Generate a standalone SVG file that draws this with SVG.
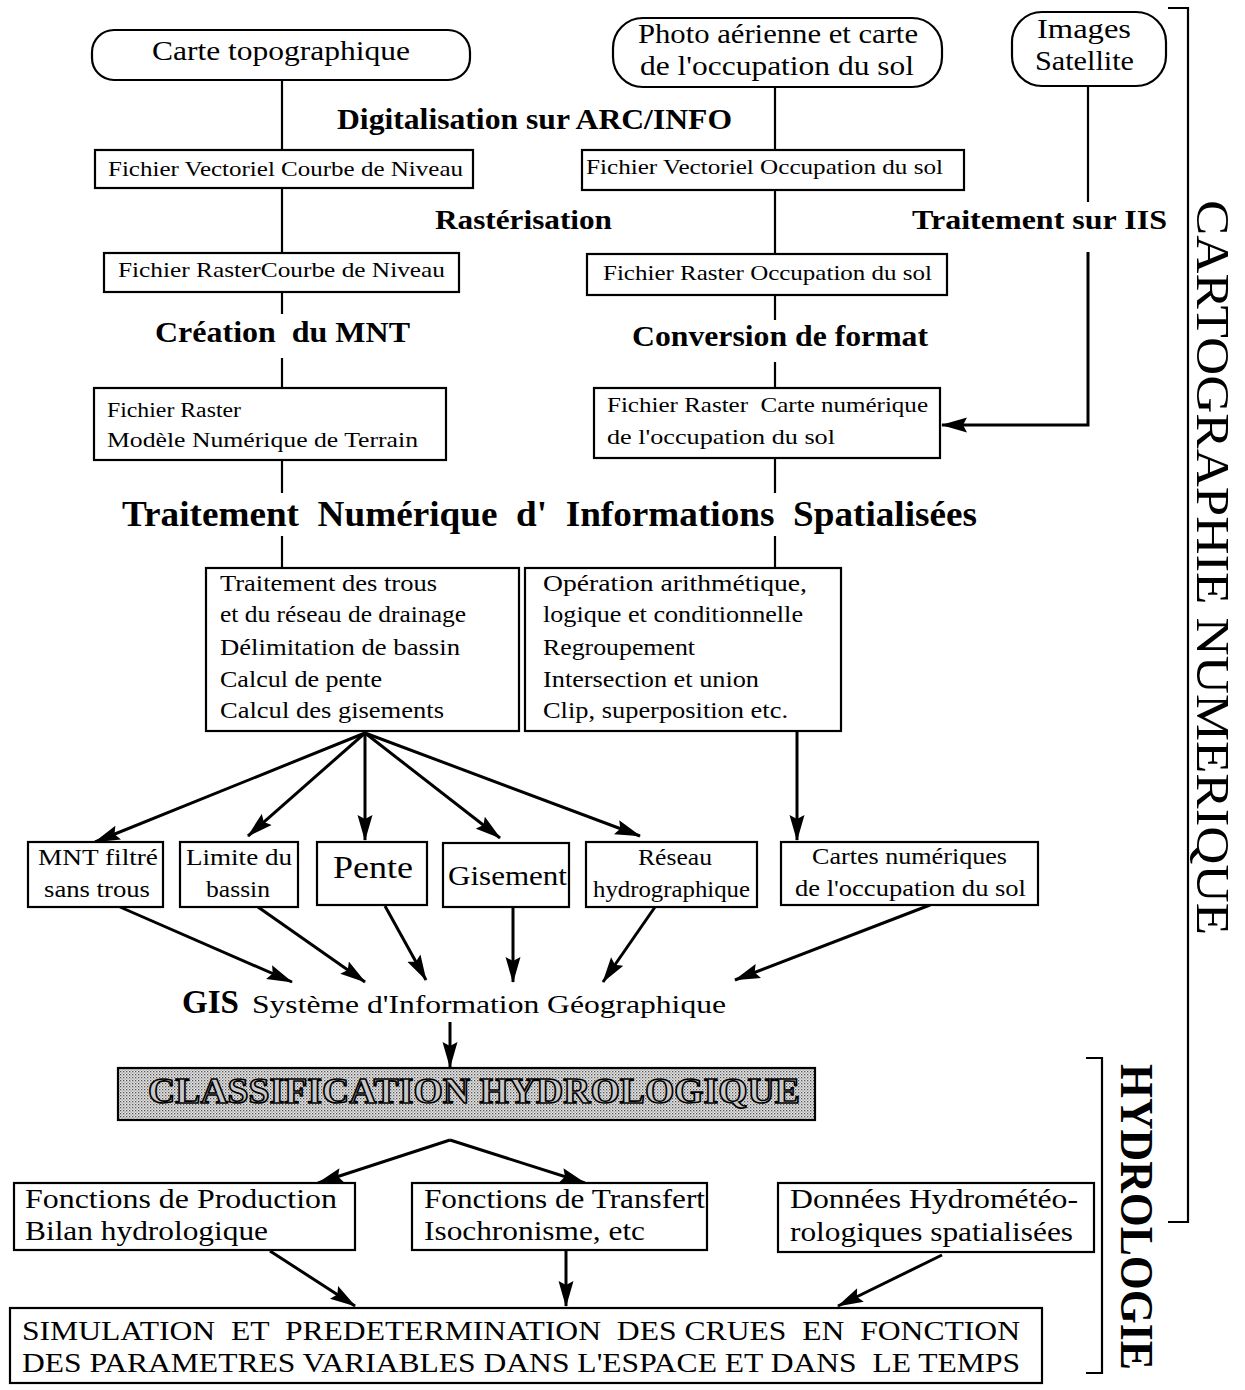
<svg xmlns="http://www.w3.org/2000/svg" width="1245" height="1390" viewBox="0 0 1245 1390" font-family="'Liberation Serif', Tinos, 'Times New Roman', 'Nimbus Roman', Times, serif">
<defs>
<style>
text{font-family:'Liberation Serif', Tinos, 'Times New Roman', 'Nimbus Roman', Times, serif;fill:#000}
.b{font-weight:bold}
.box{fill:#fff;stroke:#000;stroke-width:2.2}
.ln{fill:none;stroke:#000;stroke-width:2.2}
.ar{fill:none;stroke:#000;stroke-width:3;marker-end:url(#ah)}
.s20{font-size:20px}.s22{font-size:22px}.s23{font-size:23px}.s26{font-size:26px}.s27{font-size:27px}.s28{font-size:28px}.s29{font-size:29px}
</style>
<marker id="ah" markerWidth="26" markerHeight="16" refX="25" refY="8" orient="auto" markerUnits="userSpaceOnUse">
<path d="M0,0.5 L26,8 L0,15.5 L4,8 z" fill="#000"/>
</marker>
<pattern id="stip" width="3" height="3" patternUnits="userSpaceOnUse">
<rect width="3" height="3" fill="#e4e4e4"/>
<rect x="0" y="0" width="1.3" height="1.3" fill="#555"/>
<rect x="1.5" y="1.5" width="1.2" height="1.2" fill="#888"/>
</pattern>
</defs>
<rect width="1245" height="1390" fill="#fff"/>

<g id="connectors">
<line class="ln" x1="282" y1="80" x2="282" y2="150"/>
<line class="ln" x1="775" y1="87" x2="775" y2="150"/>
<line class="ln" x1="1088" y1="86" x2="1088" y2="202"/>
<line class="ln" x1="282" y1="188" x2="282" y2="253"/>
<line class="ln" x1="775" y1="190" x2="775" y2="254"/>
<path class="ar" d="M1088,252 V425 H942"/>
<line class="ln" x1="282" y1="292" x2="282" y2="314"/>
<line class="ln" x1="282" y1="358" x2="282" y2="388"/>
<line class="ln" x1="775" y1="295" x2="775" y2="320"/>
<line class="ln" x1="775" y1="362" x2="775" y2="388"/>
<line class="ln" x1="282" y1="460" x2="282" y2="493"/>
<line class="ln" x1="775" y1="458" x2="775" y2="493"/>
<line class="ln" x1="282" y1="536" x2="282" y2="568"/>
<line class="ln" x1="775" y1="536" x2="775" y2="568"/>
<line class="ar" x1="365" y1="733" x2="95" y2="842"/>
<line class="ar" x1="365" y1="733" x2="248" y2="836"/>
<line class="ar" x1="365" y1="733" x2="365" y2="840"/>
<line class="ar" x1="365" y1="733" x2="500" y2="838"/>
<line class="ar" x1="365" y1="733" x2="640" y2="836"/>
<line class="ar" x1="797" y1="731" x2="797" y2="840"/>
<line class="ar" x1="120" y1="907" x2="292" y2="982"/>
<line class="ar" x1="258" y1="907" x2="365" y2="982"/>
<line class="ar" x1="385" y1="906" x2="426" y2="980"/>
<line class="ar" x1="513" y1="907" x2="513" y2="982"/>
<line class="ar" x1="655" y1="907" x2="603" y2="982"/>
<line class="ar" x1="930" y1="905" x2="735" y2="980"/>
<line class="ar" x1="450" y1="1022" x2="450" y2="1067"/>
<line class="ar" x1="450" y1="1140" x2="318" y2="1183"/>
<line class="ar" x1="450" y1="1140" x2="585" y2="1183"/>
<line class="ar" x1="270" y1="1251" x2="355" y2="1306"/>
<line class="ar" x1="566" y1="1251" x2="566" y2="1306"/>
<line class="ar" x1="942" y1="1255" x2="838" y2="1306"/>
</g>

<g id="brackets">
<path class="ln" d="M1168,8 H1188 V1222 H1168"/>
<path class="ln" d="M1086,1058 H1102 V1373 H1086"/>
</g>

<g id="labels">
<text class="b s29" x="337" y="129" textLength="395" lengthAdjust="spacingAndGlyphs">Digitalisation sur ARC/INFO</text>
<text class="b s28" x="435" y="229" textLength="177" lengthAdjust="spacingAndGlyphs">Rastérisation</text>
<text class="b s28" x="912" y="229" textLength="255" lengthAdjust="spacingAndGlyphs">Traitement sur IIS</text>
<text class="b s29" x="155" y="342" textLength="255" lengthAdjust="spacingAndGlyphs" xml:space="preserve">Création  du MNT</text>
<text class="b s29" x="632" y="346" textLength="296" lengthAdjust="spacingAndGlyphs">Conversion de format</text>
<text class="b" style="font-size:36px" x="122" y="526" textLength="855" lengthAdjust="spacingAndGlyphs" xml:space="preserve">Traitement  Numérique  d'  Informations  Spatialisées</text>
<text x="182" y="1013"><tspan class="b" style="font-size:33px">GIS</tspan></text>
<text class="s26" x="252" y="1013" textLength="474" lengthAdjust="spacingAndGlyphs">Système d'Information Géographique</text>
<text transform="translate(1197,200) rotate(90)" style="font-size:46px" textLength="735" lengthAdjust="spacingAndGlyphs">CARTOGRAPHIE NUMERIQUE</text>
<text class="b" transform="translate(1121,1064) rotate(90)" style="font-size:46px" textLength="306" lengthAdjust="spacingAndGlyphs">HYDROLOGIE</text>
</g>

<g id="n-carte-topo">
<rect class="box" x="92" y="30" width="378" height="50" rx="22"/>
<text class="s28" x="152" y="60" textLength="258" lengthAdjust="spacingAndGlyphs">Carte topographique</text>
</g>
<g id="n-photo">
<rect class="box" x="613" y="18" width="329" height="69" rx="30"/>
<text class="s27" x="638" y="43" textLength="280" lengthAdjust="spacingAndGlyphs">Photo aérienne et carte</text>
<text class="s27" x="640" y="75" textLength="274" lengthAdjust="spacingAndGlyphs">de l'occupation du sol</text>
</g>
<g id="n-satellite">
<rect class="box" x="1012" y="12" width="154" height="74" rx="30"/>
<text class="s27" x="1037" y="38" textLength="94" lengthAdjust="spacingAndGlyphs">Images</text>
<text class="s27" x="1035" y="70" textLength="99" lengthAdjust="spacingAndGlyphs">Satellite</text>
</g>
<g id="n-vect-courbe">
<rect class="box" x="95" y="150" width="378" height="38"/>
<text class="s22" x="108" y="176" textLength="355" lengthAdjust="spacingAndGlyphs">Fichier Vectoriel Courbe de Niveau</text>
</g>
<g id="n-vect-occ">
<rect class="box" x="582" y="150" width="382" height="40"/>
<text class="s22" x="586" y="174" textLength="357" lengthAdjust="spacingAndGlyphs">Fichier Vectoriel Occupation du sol</text>
</g>
<g id="n-raster-courbe">
<rect class="box" x="104" y="253" width="355" height="39"/>
<text class="s22" x="118" y="277" textLength="327" lengthAdjust="spacingAndGlyphs">Fichier RasterCourbe de Niveau</text>
</g>
<g id="n-raster-occ">
<rect class="box" x="587" y="254" width="360" height="41"/>
<text class="s22" x="603" y="280" textLength="329" lengthAdjust="spacingAndGlyphs">Fichier Raster Occupation du sol</text>
</g>
<g id="n-mnt">
<rect class="box" x="94" y="388" width="352" height="72"/>
<text class="s20" x="107" y="417" textLength="134" lengthAdjust="spacingAndGlyphs">Fichier Raster</text>
<text class="s22" x="107" y="447" textLength="311" lengthAdjust="spacingAndGlyphs">Modèle Numérique de Terrain</text>
</g>
<g id="n-carte-num">
<rect class="box" x="594" y="388" width="346" height="70"/>
<text class="s22" x="607" y="412" textLength="321" lengthAdjust="spacingAndGlyphs" xml:space="preserve">Fichier Raster  Carte numérique</text>
<text class="s22" x="607" y="444" textLength="228" lengthAdjust="spacingAndGlyphs">de l'occupation du sol</text>
</g>
<g id="n-traitement">
<rect class="box" x="206" y="568" width="313" height="163"/>
<text class="s23" x="220" y="591" textLength="217" lengthAdjust="spacingAndGlyphs">Traitement des trous</text>
<text class="s23" x="220" y="622" textLength="246" lengthAdjust="spacingAndGlyphs">et du réseau de drainage</text>
<text class="s23" x="220" y="655" textLength="240" lengthAdjust="spacingAndGlyphs">Délimitation de bassin</text>
<text class="s23" x="220" y="687" textLength="162" lengthAdjust="spacingAndGlyphs">Calcul de pente</text>
<text class="s23" x="220" y="718" textLength="224" lengthAdjust="spacingAndGlyphs">Calcul des gisements</text>
</g>
<g id="n-operation">
<rect class="box" x="525" y="568" width="316" height="163"/>
<text class="s23" x="543" y="591" textLength="264" lengthAdjust="spacingAndGlyphs">Opération arithmétique,</text>
<text class="s23" x="543" y="622" textLength="260" lengthAdjust="spacingAndGlyphs">logique et conditionnelle</text>
<text class="s23" x="543" y="655" textLength="152" lengthAdjust="spacingAndGlyphs">Regroupement</text>
<text class="s23" x="543" y="687" textLength="216" lengthAdjust="spacingAndGlyphs">Intersection et union</text>
<text class="s23" x="543" y="718" textLength="245" lengthAdjust="spacingAndGlyphs">Clip, superposition etc.</text>
</g>
<g id="n-mnt-filtre">
<rect class="box" x="28" y="842" width="135" height="65"/>
<text class="s23" x="38" y="865" textLength="120" lengthAdjust="spacingAndGlyphs">MNT filtré</text>
<text class="s23" x="44" y="897" textLength="106" lengthAdjust="spacingAndGlyphs">sans trous</text>
</g>
<g id="n-limite">
<rect class="box" x="180" y="842" width="118" height="65"/>
<text class="s23" x="186" y="865" textLength="106" lengthAdjust="spacingAndGlyphs">Limite du</text>
<text class="s23" x="206" y="897" textLength="64" lengthAdjust="spacingAndGlyphs">bassin</text>
</g>
<g id="n-pente">
<rect class="box" x="317" y="842" width="110" height="63"/>
<text style="font-size:32px" x="333" y="878" textLength="80" lengthAdjust="spacingAndGlyphs">Pente</text>
</g>
<g id="n-gisement">
<rect class="box" x="443" y="843" width="126" height="64"/>
<text class="s28" x="448" y="885" textLength="119" lengthAdjust="spacingAndGlyphs">Gisement</text>
</g>
<g id="n-reseau">
<rect class="box" x="586" y="842" width="171" height="65"/>
<text class="s23" x="638" y="865" textLength="74" lengthAdjust="spacingAndGlyphs">Réseau</text>
<text class="s23" x="593" y="897" textLength="157" lengthAdjust="spacingAndGlyphs">hydrographique</text>
</g>
<g id="n-cartes-num">
<rect class="box" x="781" y="842" width="257" height="63"/>
<text class="s23" x="812" y="864" textLength="195" lengthAdjust="spacingAndGlyphs">Cartes numériques</text>
<text class="s23" x="795" y="896" textLength="231" lengthAdjust="spacingAndGlyphs">de l'occupation du sol</text>
</g>
<g id="n-classification">
<rect x="118" y="1068" width="697" height="52" fill="url(#stip)" stroke="#000" stroke-width="2.2"/>
<text class="b" style="font-size:36px;fill:#c8c8c8;stroke:#000;stroke-width:1.6" x="148" y="1103" textLength="652" lengthAdjust="spacingAndGlyphs">CLASSIFICATION HYDROLOGIQUE</text>
</g>
<g id="n-production">
<rect class="box" x="14" y="1183" width="341" height="67"/>
<text class="s27" x="25" y="1208" textLength="312" lengthAdjust="spacingAndGlyphs">Fonctions de Production</text>
<text class="s27" x="25" y="1240" textLength="243" lengthAdjust="spacingAndGlyphs">Bilan hydrologique</text>
</g>
<g id="n-transfert">
<rect class="box" x="412" y="1183" width="295" height="67"/>
<text class="s27" x="424" y="1208" textLength="281" lengthAdjust="spacingAndGlyphs">Fonctions de Transfert</text>
<text class="s27" x="424" y="1240" textLength="221" lengthAdjust="spacingAndGlyphs">Isochronisme, etc</text>
</g>
<g id="n-donnees">
<rect class="box" x="778" y="1183" width="316" height="69"/>
<text class="s27" x="790" y="1208" textLength="288" lengthAdjust="spacingAndGlyphs">Données Hydrométéo-</text>
<text class="s27" x="790" y="1241" textLength="283" lengthAdjust="spacingAndGlyphs">rologiques spatialisées</text>
</g>
<g id="n-simulation">
<rect class="box" x="10" y="1308" width="1032" height="75"/>
<text class="s27" x="22" y="1340" textLength="998" lengthAdjust="spacingAndGlyphs" xml:space="preserve">SIMULATION  ET  PREDETERMINATION  DES CRUES  EN  FONCTION</text>
<text class="s27" x="22" y="1372" textLength="998" lengthAdjust="spacingAndGlyphs" xml:space="preserve">DES PARAMETRES VARIABLES DANS L'ESPACE ET DANS  LE TEMPS</text>
</g>
</svg>
